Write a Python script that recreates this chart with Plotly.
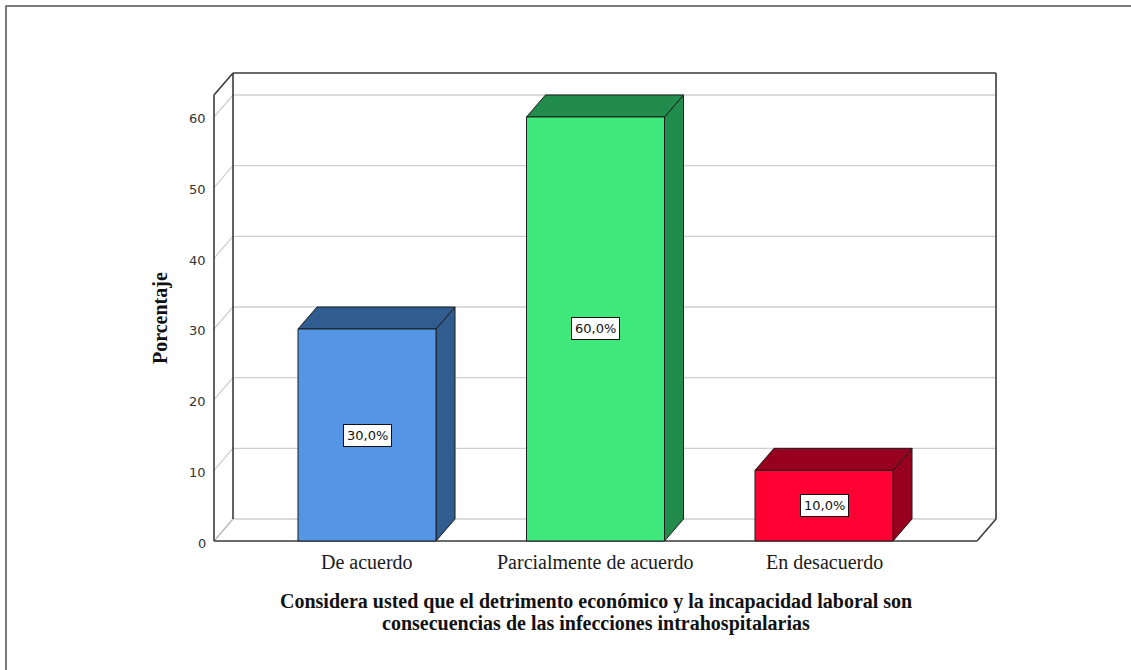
import plotly.graph_objects as go

# Survey answers and their percentages
categories = ["De acuerdo", "Parcialmente de acuerdo", "En desacuerdo"]
percentages = [30.0, 60.0, 10.0]
front_colors = ["#5595E6", "#3EE87A", "#FF0033"]
shade_colors = ["#305C90", "#218C4B", "#98001F"]
tick_values = [0, 10, 20, 30, 40, 50, 60]

y_title = "Porcentaje"
x_title_lines = ["Considera usted que el detrimento económico y la incapacidad laboral son",
                 "consecuencias de las infecciones intrahospitalarias"]

W, H = 1131, 670

# Pseudo-3D box geometry, in axis units
X_LEFT, X_RIGHT = -0.6696, 2.6696      # front floor edge
WALL_TOP = 63.1                        # height of the frame
DX, DY = 0.0832, 3.113                 # depth offset of the back wall
HALF_W = 0.302                         # half bar width

GRID = "#cfcfcf"
DARK = "#3a3a3a"
EDGE = "#1e1e1e"

fig = go.Figure()


def seg(x0, y0, x1, y1, color, width):
    fig.add_trace(go.Scatter(x=[x0, x1], y=[y0, y1], mode="lines",
                             line=dict(color=color, width=width),
                             hoverinfo="skip", showlegend=False))


def poly(xs, ys, fill):
    fig.add_trace(go.Scatter(x=xs + [xs[0]], y=ys + [ys[0]], mode="lines",
                             fill="toself", fillcolor=fill,
                             line=dict(color=EDGE, width=1),
                             hoverinfo="skip", showlegend=False))


# gridlines on back wall and side wall
for v in tick_values:
    seg(X_LEFT + DX, v + DY, X_RIGHT + DX, v + DY, GRID, 1.3)
    seg(X_LEFT, v, X_LEFT + DX, v + DY, "#b5b5b5" if v == 0 else GRID, 1.3)

# frame edges
seg(X_LEFT, 0, X_LEFT, WALL_TOP, DARK, 1.6)
seg(X_LEFT + DX, DY, X_LEFT + DX, WALL_TOP + DY, DARK, 1.6)
seg(X_LEFT, WALL_TOP, X_LEFT + DX, WALL_TOP + DY, DARK, 1.6)
seg(X_LEFT + DX, WALL_TOP + DY, X_RIGHT + DX, WALL_TOP + DY, DARK, 1.6)
seg(X_RIGHT + DX, DY, X_RIGHT + DX, WALL_TOP + DY, DARK, 1.6)
seg(X_LEFT, 0, X_RIGHT, 0, DARK, 1.6)
seg(X_RIGHT, 0, X_RIGHT + DX, DY, DARK, 1.6)

# bars: right side face, top face, front face
for i, (v, fc, sc) in enumerate(zip(percentages, front_colors, shade_colors)):
    x0, x1 = i - HALF_W, i + HALF_W
    poly([x1, x1 + DX, x1 + DX, x1], [0, DY, v + DY, v], sc)
    poly([x0, x1, x1 + DX, x0 + DX], [v, v, v + DY, v + DY], sc)
    poly([x0, x1, x1, x0], [0, 0, v, v], fc)

annotations = []

# y tick labels along the front edge
for t in tick_values:
    annotations.append(dict(x=X_LEFT, y=t, xref="x", yref="y", text=str(t), showarrow=False,
                            xanchor="right", yanchor="middle", xshift=-6, yshift=-2,
                            font=dict(family="DejaVu Sans", size=13, color="#333333")))

for i, (c, v) in enumerate(zip(categories, percentages)):
    annotations.append(dict(x=i, y=0, xref="x", yref="y", text=c, showarrow=False,
                            yanchor="middle", yshift=-21,
                            font=dict(family="Liberation Serif", size=20, color="#1a1a1a")))
    annotations.append(dict(x=i, y=v / 2, xref="x", yref="y",
                            text=f"{v:.1f}".replace(".", ",") + "%", showarrow=False,
                            bgcolor="white", bordercolor="#111111", borderwidth=1, borderpad=3,
                            font=dict(family="DejaVu Sans", size=13, color="#111111")))

annotations.append(dict(x=160 / W, y=1 - 318 / H, xref="paper", yref="paper",
                        xanchor="center", yanchor="middle",
                        text=f"<b>{y_title}</b>", textangle=-90, showarrow=False,
                        font=dict(family="Liberation Serif", size=20, color="#111111")))
for k, line in enumerate(x_title_lines):
    annotations.append(dict(x=596 / W, y=1 - (601.5 + 22 * k) / H, xref="paper", yref="paper",
                            xanchor="center", yanchor="middle",
                            text=f"<b>{line}</b>", showarrow=False,
                            font=dict(family="Liberation Serif", size=20, color="#111111")))

fig.update_layout(
    width=W, height=H,
    margin=dict(l=0, r=0, t=0, b=0),
    paper_bgcolor="white", plot_bgcolor="white",
    xaxis=dict(range=[-367 / 228.5, (W - 367) / 228.5], visible=False, fixedrange=True),
    yaxis=dict(range=[(541 - H) / 7.067, 541 / 7.067], visible=False, fixedrange=True),
    annotations=annotations,
    shapes=[
        dict(type="line", xref="paper", yref="paper", x0=5.5 / W, x1=1, y0=1 - 6 / H, y1=1 - 6 / H,
             line=dict(color="#7a7a7a", width=2)),
        dict(type="line", xref="paper", yref="paper", x0=6 / W, x1=6 / W, y0=0, y1=1 - 5.5 / H,
             line=dict(color="#7a7a7a", width=2)),
    ],
)

fig.write_html("out.html", config={"displayModeBar": False},
               post_script="document.body.style.margin='0';")
